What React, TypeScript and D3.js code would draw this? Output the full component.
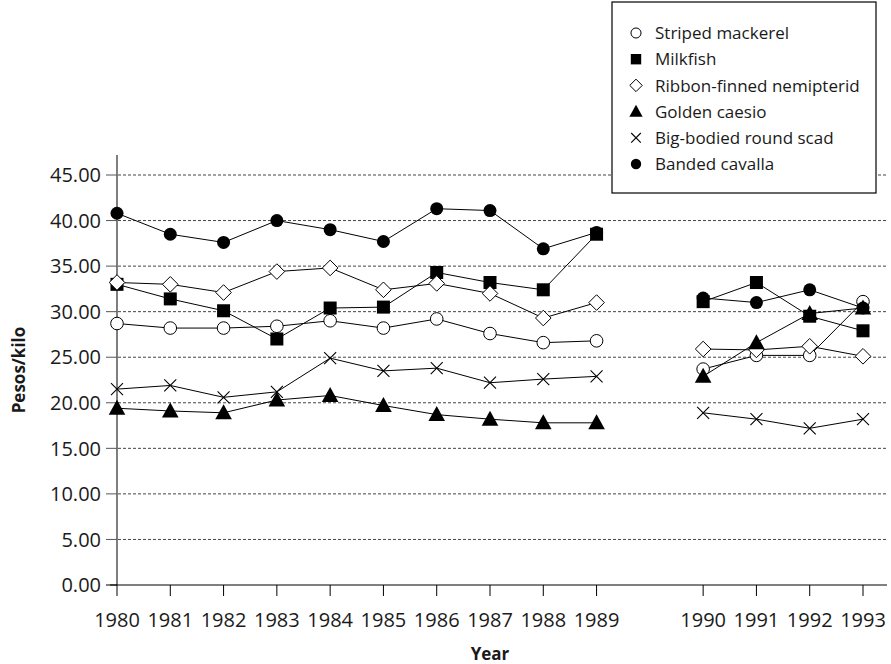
import React from "react";
import * as d3 from "d3";

const categories = ["1980","1981","1982","1983","1984","1985","1986","1987","1988","1989","","1990","1991","1992","1993"];
const yTicks = [0, 5, 10, 15, 20, 25, 30, 35, 40, 45];

const seriesNames = ["Striped mackerel","Milkfish","Ribbon-finned nemipterid","Golden caesio","Big-bodied round scad","Banded cavalla"];
const stripedMackerel = [28.7,28.2,28.2,28.4,29.0,28.2,29.2,27.6,26.6,26.8,null,23.7,25.2,25.2,31.1];
const milkfish = [33.0,31.4,30.1,27.0,30.4,30.5,34.3,33.2,32.4,38.5,null,31.1,33.2,29.5,27.9];
const ribbonFinned = [33.2,33.0,32.1,34.4,34.8,32.4,33.1,32.0,29.3,31.0,null,25.9,25.8,26.2,25.1];
const goldenCaesio = [19.4,19.1,18.9,20.3,20.8,19.7,18.7,18.2,17.8,17.8,null,22.9,26.6,29.8,30.4];
const bigBodied = [21.5,21.9,20.6,21.2,24.9,23.5,23.8,22.2,22.6,22.9,null,18.9,18.2,17.2,18.2];
const bandedCavalla = [40.8,38.5,37.6,40.0,39.0,37.7,41.3,41.1,36.9,38.7,null,31.5,31.0,32.4,30.4];

const seriesValues = [stripedMackerel, milkfish, ribbonFinned, goldenCaesio, bigBodied, bandedCavalla];
const markerKinds = ["openCircle","square","diamond","triangle","cross","filledCircle"];

const TXT = "#1a1a1a";
const FONT = "'Open Sans', sans-serif";

function Marker({ kind, x, y, s = 1 }: { kind: string; x: number; y: number; s?: number }) {
  switch (kind) {
    case "openCircle":
      return <circle cx={x} cy={y} r={6.3 * s} fill="#fff" stroke="#000" strokeWidth={1} />;
    case "filledCircle":
      return <circle cx={x} cy={y} r={6.5 * s} fill="#000" />;
    case "square": {
      const h = 6.5 * s;
      return <rect x={x - h} y={y - h} width={2 * h} height={2 * h} fill="#000" />;
    }
    case "diamond": {
      const h = 7.8 * s;
      return <path d={`M${x},${y - h}L${x + h},${y}L${x},${y + h}L${x - h},${y}Z`} fill="#fff" stroke="#000" strokeWidth={1} />;
    }
    case "triangle": {
      const w = 8.3 * s, t = 8.5 * s, b = 6.5 * s;
      return <path d={`M${x},${y - t}L${x + w},${y + b}L${x - w},${y + b}Z`} fill="#000" />;
    }
    case "cross": {
      const h = 6 * s;
      return <path d={`M${x - h},${y - h}L${x + h},${y + h}M${x - h},${y + h}L${x + h},${y - h}`} stroke="#000" strokeWidth={1.1} fill="none" />;
    }
  }
  return null;
}

export default function App() {
  const W = 891, H = 664;
  const x = d3.scalePoint<string>().domain(categories.map((c, i) => String(i))).range([117, 863]);
  const y = d3.scaleLinear().domain([0, 45]).range([585, 175]);
  const px = (i: number) => x(String(i)) as number;

  const line = d3.line<number | null>()
    .defined((d) => d !== null)
    .x((_, i) => px(i))
    .y((d) => y(d as number));

  const legendY = (i: number) => 33 + i * 26.2;

  return (
    <svg width={W} height={H} style={{ position: "absolute", left: 0, top: 0, background: "#fff" }} fontFamily={FONT}>
      {/* gridlines */}
      {yTicks.filter((t) => t > 0).map((t) => (
        <line key={"g" + t} x1={118} x2={887} y1={y(t)} y2={y(t)} stroke="#444" strokeWidth={1} strokeDasharray="3 2" />
      ))}
      {/* y axis */}
      <line x1={117} x2={117} y1={155} y2={585} stroke="#7f7f7f" strokeWidth={2} />
      {yTicks.map((t) => (
        <g key={"yt" + t}>
          <line x1={106} x2={117} y1={y(t)} y2={y(t)} stroke={t === 0 ? "#000" : "#555"} strokeWidth={1} />
          <text x={101} y={y(t)} dy="0.36em" textAnchor="end" fontSize={20} fill={TXT}>{t.toFixed(2)}</text>
        </g>
      ))}
      {/* x axis */}
      <line x1={110} x2={887} y1={585} y2={585} stroke="#000" strokeWidth={1} />
      {categories.map((c, i) => c === "" ? null : (
        <g key={"xt" + i}>
          <line x1={px(i)} x2={px(i)} y1={585} y2={596} stroke="#000" strokeWidth={1} />
          <text x={px(i)} y={627} textAnchor="middle" fontSize={20} fill={TXT}>{c}</text>
        </g>
      ))}
      {/* axis titles */}
      <text x={490} y={660} textAnchor="middle" fontSize={17} fontWeight="bold" fill={TXT}>Year</text>
      <text transform="translate(25,370) rotate(-90)" textAnchor="middle" fontSize={17} fontWeight="bold" fill={TXT}>Pesos/kilo</text>
      {/* series */}
      {seriesValues.map((vals, si) => (
        <g key={"s" + si}>
          <path d={line(vals) || ""} fill="none" stroke="#000" strokeWidth={1} />
          {vals.map((v, i) => v === null ? null : (
            <Marker key={i} kind={markerKinds[si]} x={px(i)} y={y(v)} />
          ))}
        </g>
      ))}
      {/* legend */}
      <rect x={612} y={2} width={264} height={191} fill="#fff" stroke="#000" strokeWidth={1.2} />
      {seriesNames.map((n, i) => (
        <g key={"l" + i}>
          <Marker kind={markerKinds[i]} x={636} y={legendY(i)} s={0.8} />
          <text x={655} y={legendY(i)} dy="0.36em" fontSize={17} fill={TXT}>{n}</text>
        </g>
      ))}
    </svg>
  );
}
